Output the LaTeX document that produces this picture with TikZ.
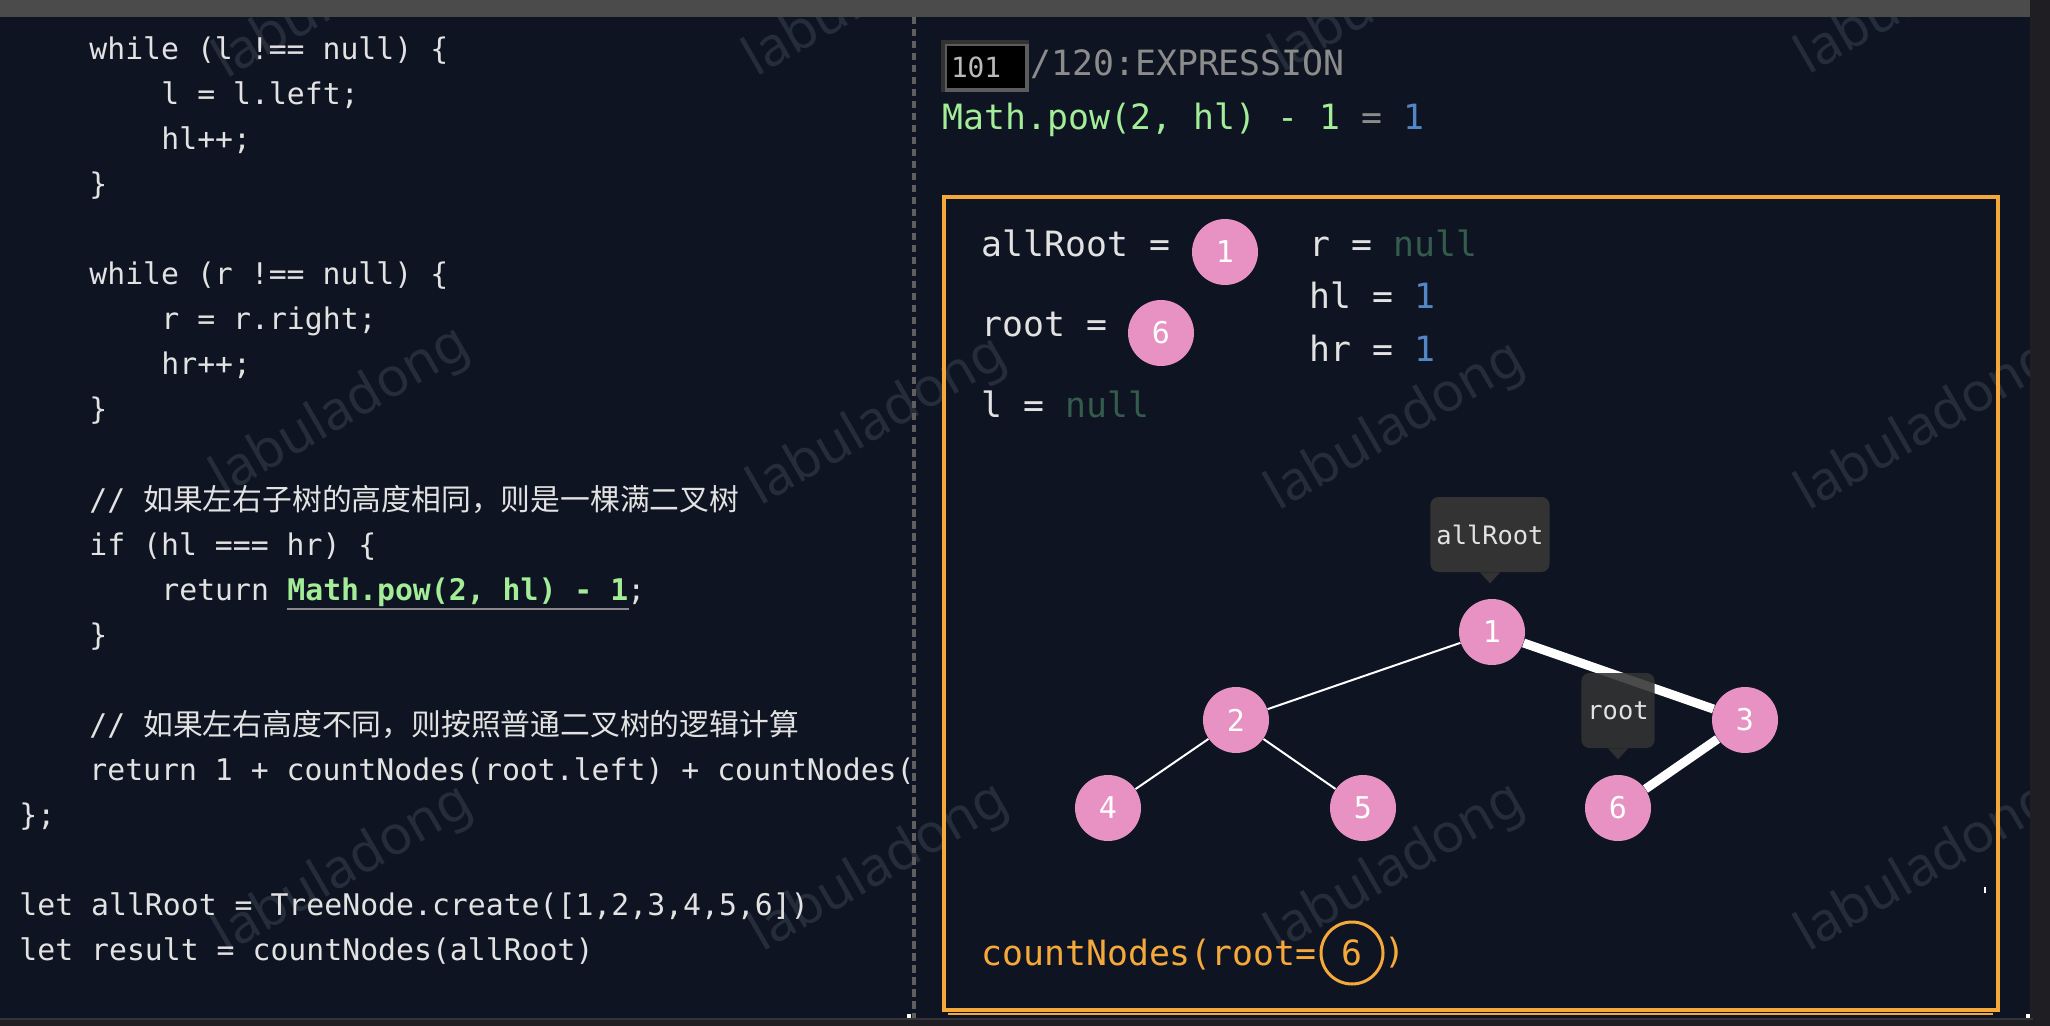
\documentclass[tikz,border=0pt]{standalone}
\usepackage{fontspec}
\usetikzlibrary{positioning}

\newfontfamily\code{DejaVu Sans Mono}
\newfontfamily\cjk{Noto Sans CJK SC}
\newfontfamily\wmfont{Noto Sans}

\definecolor{bg}{RGB}{14,20,33}
\definecolor{barg}{RGB}{75,75,75}
\definecolor{edgeg}{RGB}{31,30,34}
\definecolor{barline}{RGB}{52,52,56}
\definecolor{codetext}{RGB}{226,226,226}
\definecolor{powgreen}{RGB}{163,236,152}
\definecolor{valblue}{RGB}{82,134,196}
\definecolor{nullgreen}{RGB}{52,92,76}
\definecolor{boxorange}{RGB}{246,169,59}
\definecolor{nodepink}{RGB}{232,145,195}
\definecolor{tipgray}{RGB}{51,51,51}
\definecolor{dashg}{RGB}{95,95,95}
\definecolor{wmgray}{RGB}{37,44,58}
\definecolor{hdrgray}{RGB}{140,140,140}
\definecolor{idxlight}{RGB}{92,92,92}
\definecolor{idxdark}{RGB}{50,50,50}
\definecolor{ulgray}{RGB}{138,138,138}

\begin{document}
\begin{tikzpicture}[x = 0.5pt, y = -0.5pt,
		codeline/.style = {anchor = base west, inner sep = 0, text = codetext, font = \code\fontsize{14.9}{18}\selectfont},
		panetext/.style = {anchor = base west, inner sep = 0, text = codetext, font = \code\fontsize{17.4}{21}\selectfont},
		treenode/.style = {circle, fill = nodepink, minimum size = 33pt, inner sep = 0, text = white, font = \code\fontsize{15}{18}\selectfont},
		tipbox/.style = {fill = tipgray, rounded corners = 4pt, minimum height = 37.5pt, inner xsep = 3pt, text = codetext, font = \code\fontsize{12.7}{15}\selectfont},
		wmark/.style = {anchor = base west, rotate = 30, inner sep = 0, text = wmgray, font = \wmfont\fontsize{27}{30}\selectfont},
		thinedge/.style = {white, line width = 1pt},
		thickedge/.style = {white, line width = 4.5pt}]

	% Background
	
	\useasboundingbox (0, 0) rectangle (2050, 1026);
	\fill [bg] (0, 0) rectangle (2050, 1026);
	
	% Watermarks
	
	\foreach \x/\y [count = \i] in {226/80, 756/78, 1282/74, 1808/76, 223/497, 760/507, 1278/512, 1808/512, 226/955, 762/953, 1278/953, 1808/953}
		\node [wmark] (wm\i) at (\x, \y) {labuladong};
	
	% Window bars + divider
	
	\fill [barg] (0, 0) rectangle (2030, 17);
	\fill [edgeg] (2030, 0) rectangle (2050, 1026);
	\fill [edgeg] (0, 1018) rectangle (2030, 1026);
	\fill [barline] (0, 1018) rectangle (2033, 1020);
	\draw [dashg, line width = 2pt, dash pattern = on 3.75pt off 2.25pt] (914, 17) -- (914, 1018);
	\fill [white] (907, 1014) rectangle (911, 1018);
	\fill [white] (2026, 1014) rectangle (2030, 1018);
	
	% Code listing
	
	\node [codeline] (code0) at (89, 60) {while (l !== null) \{};
	\node [codeline] (code1) at (161, 105) {l = l.left;};
	\node [codeline] (code2) at (161, 150) {hl++;};
	\node [codeline] (code3) at (89, 195) {\}};
	\node [codeline] (code5) at (89, 285) {while (r !== null) \{};
	\node [codeline] (code6) at (161, 330) {r = r.right;};
	\node [codeline] (code7) at (161, 375) {hr++;};
	\node [codeline] (code8) at (89, 420) {\}};
	\node [codeline] (code10) at (89, 510) {// {\cjk 如果左右子树的高度相同，则是一棵满二叉树}};
	\node [codeline] (code11) at (89, 555) {if (hl === hr) \{};
	\node [codeline] (code12) at (161, 600) {return};
	\node [codeline, text = powgreen, font = \code\bfseries\fontsize{14.9}{18}\selectfont] (pow) at (287, 600) {Math.pow(2, hl) - 1};
	\node [codeline] (code12b) at (627, 600) {;};
	\draw [ulgray, line width = 1pt] ([yshift = -1pt] pow.south west) -- ([yshift = -1pt] pow.south east);
	\node [codeline] (code13) at (89, 645) {\}};
	\node [codeline] (code15) at (89, 735) {// {\cjk 如果左右高度不同，则按照普通二叉树的逻辑计算}};
	\begin{scope}
		\clip (0, 17) rectangle (910, 1018);
		\node [codeline] (code16) at (89, 780) {return 1 + countNodes(root.left) + countNodes(root.right);};
	\end{scope}
	\node [codeline] (code17) at (19, 825) {\};};
	\node [codeline] (code19) at (19, 915) {let allRoot = TreeNode.create([1,2,3,4,5,6])};
	\node [codeline] (code20) at (19, 960) {let result = countNodes(allRoot)};
	
	% Step header
	
	\node [fill = black, draw = idxlight, line width = 2pt, text width = 35pt, align = left, inner xsep = 3pt, minimum height = 23pt, text = hdrgray!60!white, font = \code\fontsize{13.9}{16}\selectfont] (idx) at (986, 67) {101};
	\draw [idxdark, line width = 2pt] (idx.south west) |- (idx.north east);
	\node [panetext, text = hdrgray] (hdr) at (1030, 76) {/120:EXPRESSION};
	\node [panetext, text = powgreen] (expr) at (942, 130) {Math.pow(2, hl) - 1 {\color{hdrgray}=} {\color{valblue}1}};
	
	% Frame + variables
	
	\draw [boxorange, line width = 2pt] (944, 197) rectangle (1998, 1010);
	\draw [boxorange, line width = 0.75pt] (948, 1014) -- (1993, 1014);
	\fill [white] (1984, 887) rectangle (1986, 893);
	
	\node [panetext] (vall) at (981, 257) {allRoot =};
	\node [treenode] (pall) at (1225, 252) {1};
	\node [panetext] (vroot) at (981, 337) {root =};
	\node [treenode] (proot) at (1161, 333) {6};
	\node [panetext] (vl) at (981, 418) {l = \textcolor{nullgreen}{null}};
	\node [panetext] (vr) at (1309, 257) {r = \textcolor{nullgreen}{null}};
	\node [panetext] (vhl) at (1309, 309) {hl = \textcolor{valblue}{1}};
	\node [panetext] (vhr) at (1309, 362) {hr = \textcolor{valblue}{1}};
	
	% Draw tree
	
	\foreach \n/\x/\y in {1/1492/632, 2/1236/720, 3/1745/720, 4/1108/808, 5/1363/808, 6/1618/808}
		\node [treenode] (n\n) at (\x, \y) {\n};
	
	\foreach \a/\b in {1/2, 2/4, 2/5}
		\draw [thinedge] (n\a) -- (n\b);
	\foreach \a/\b in {1/3, 3/6}
		\draw [thickedge] (n\a) -- (n\b);
	
	% Pointers
	
	\node [tipbox] (tall) at (1490, 534.5) {allRoot};
	\fill [tipgray] ([xshift = -5pt] tall.south) -- ([xshift = 5pt] tall.south) -- ([yshift = -5.5pt] tall.south) -- cycle;
	\node [tipbox, fill opacity = 0.88, text opacity = 1] (troot) at (1618, 710.5) {root};
	\fill [tipgray, fill opacity = 0.88] ([xshift = -5pt] troot.south) -- ([xshift = 5pt] troot.south) -- ([yshift = -5.5pt] troot.south) -- cycle;
	
	% Current call
	
	\node [panetext, text = boxorange] (call) at (981, 965) {countNodes(root=};
	\node [circle, draw = boxorange, line width = 1.5pt, minimum size = 31pt, inner sep = 0, text = boxorange, font = \code\fontsize{17.4}{21}\selectfont] (arg) at (1352, 953) {6};
	\node [panetext, text = boxorange, right = 0pt of arg] (close) {)};

\end{tikzpicture}
\end{document}
